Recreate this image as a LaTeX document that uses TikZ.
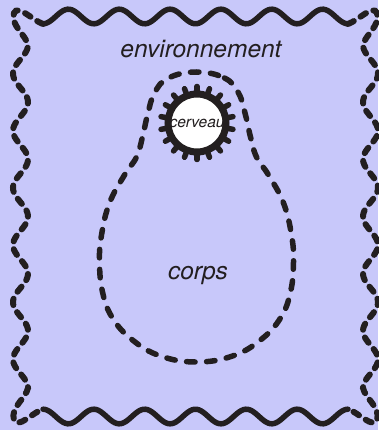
\documentclass[tikz,border=0pt]{standalone}
\usepackage{fontspec}
\setmainfont{TeX Gyre Heros}
\definecolor{bgblue}{RGB}{200,200,250}
\definecolor{ink}{RGB}{35,31,32}

\begin{document}
\begin{tikzpicture}[x=1pt, y=-1pt,
    wave/.style={draw=ink, line width=5.5pt, line cap=round},
    sidedash/.style={draw=ink, line width=6pt, line cap=round, dash pattern=on 6.5pt off 8pt},
    bodydash/.style={draw=ink, line width=5.5pt, line cap=round, dash pattern=on 8.5pt off 11.5pt},
    spike/.style={draw=ink, line width=5.5pt, line cap=round},
    areatext/.style={text=ink, anchor=base, font=\fontsize{24.5}{29}\selectfont\itshape}]
    % Background
    \fill[bgblue] (0,0) rectangle (378,430);
    \useasboundingbox (0,0) rectangle (378,430);

    % Environment border: solid top and bottom, dashed sides
    \draw[wave] plot[domain=43:348, samples=150, smooth] (\x, {16.5+7.3*cos(7.0820*(\x-43))});
    \draw[wave] plot[domain=43:348, samples=150, smooth] (\x, {416.5-7.3*cos(7.0820*(\x-43))});
    \draw[sidedash] (43,24) .. controls (32,20) and (18,4) .. (14,13) .. controls (10,25) and (26,35) .. (28,45)
        -- plot[variable=\t, domain=45:388, samples=150, smooth] ({20.5+7.5*cos(6.2974*(\t-45))}, \t)
        .. controls (26,398) and (10,408) .. (14,420) .. controls (18,429) and (32,413) .. (43,409);
    \draw[sidedash] (348,24) .. controls (359,20) and (373,4) .. (377,13) .. controls (381,25) and (365,35) .. (363,45)
        -- plot[variable=\t, domain=45:388, samples=150, smooth] ({370.5-7.5*cos(6.2974*(\t-45))}, \t)
        .. controls (365,398) and (381,408) .. (377,420) .. controls (373,429) and (359,413) .. (348,409);

    \node[areatext] (env) at (201,58) {environnement};

    % Body
    \draw[bodydash] plot[smooth cycle, tension=0.7] coordinates {
        (196.5,72) (224.5,78) (238.5,93) (245.5,115) (250.5,137) (256.5,157) (268.5,175)
        (283.5,203) (291.5,235) (293.5,262) (290.5,292) (280.5,318) (260.5,340) (232.5,356)
        (196.5,362) (160.5,356) (132.5,340) (112.5,318) (102.5,292) (99.5,262) (101.5,235)
        (109.5,203) (124.5,175) (136.5,157) (142.5,137) (147.5,115) (154.5,93) (168.5,78)};

    \node[areatext] (corps) at (198,279) {corps};

    % Brain
    \node[circle, fill=white, inner sep=0pt, outer sep=0pt, minimum size=56pt, text=ink,
        font=\fontsize{15.5}{18}\selectfont\itshape] (cerveau) at (197,123) {\makebox[0pt]{cerveau}};
    \draw[ink, line width=7pt] (cerveau.center) circle (29);
    \foreach \a in {10,30,...,350}
        \draw[spike] ([shift={(\a:3pt)}]cerveau.\a) -- ([shift={(\a:8.5pt)}]cerveau.\a);
\end{tikzpicture}
\end{document}
